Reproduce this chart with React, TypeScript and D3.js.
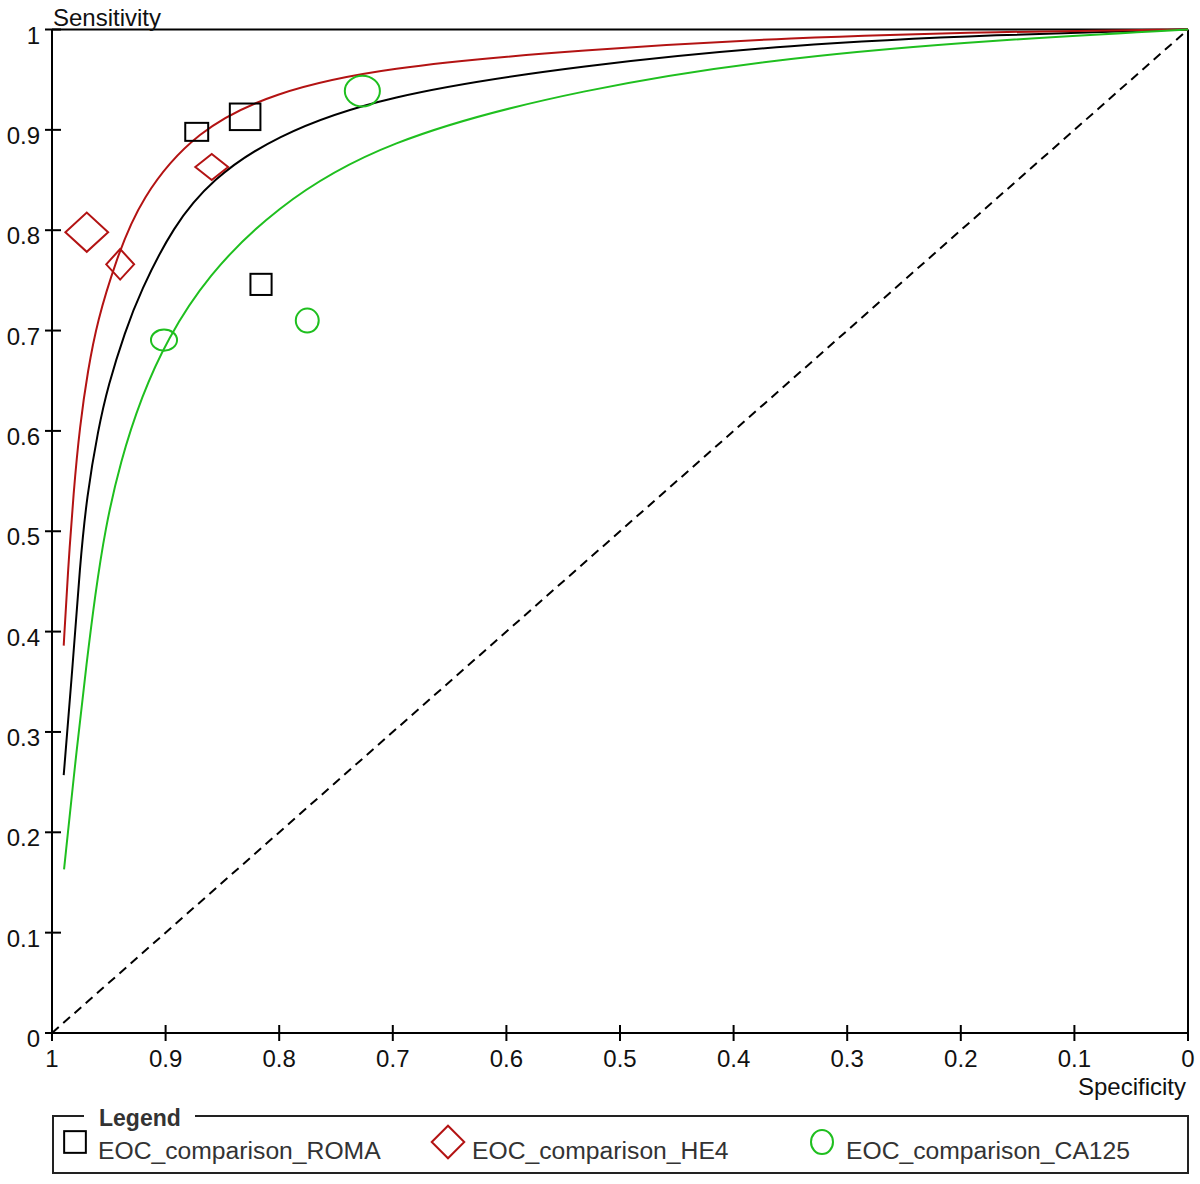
import { scaleLinear, line, curveBasis } from "d3"

const tickValues = [0, 0.1, 0.2, 0.3, 0.4, 0.5, 0.6, 0.7, 0.8, 0.9, 1]
const tickLabels = ["0", "0.1", "0.2", "0.3", "0.4", "0.5", "0.6", "0.7", "0.8", "0.9", "1"]

const seriesNames = ["EOC_comparison_ROMA", "EOC_comparison_HE4", "EOC_comparison_CA125"]
const seriesColors = ["#000000", "#b31313", "#1fbf1f"]
const seriesShapes = ["square", "diamond", "circle"]

// SROC curves (specificity, sensitivity)
const romaCurveSpec = [0.9897, 0.9815, 0.9755, 0.9694, 0.9593, 0.9507, 0.9357, 0.9225, 0.8935, 0.859, 0.8055, 0.711, 0.531, 0.35, 0.1655, 0]
const romaCurveSens = [0.257, 0.37, 0.465, 0.535, 0.602, 0.645, 0.699, 0.738, 0.804, 0.851, 0.893, 0.934, 0.965, 0.985, 0.995, 1]
const he4CurveSpec = [0.9897, 0.986, 0.981, 0.9755, 0.9685, 0.9600, 0.9443, 0.9225, 0.8726, 0.8055, 0.711, 0.531, 0.35, 0.1655, 0]
const he4CurveSens = [0.386, 0.46, 0.54, 0.605, 0.66, 0.71, 0.768, 0.832, 0.9, 0.937, 0.962, 0.98, 0.992, 0.998, 1]
const ca125CurveSpec = [0.9894, 0.978, 0.9694, 0.9621, 0.9533, 0.94, 0.921, 0.8988, 0.8636, 0.8055, 0.711, 0.531, 0.35, 0.1655, 0]
const ca125CurveSens = [0.163, 0.286, 0.37, 0.436, 0.502, 0.569, 0.635, 0.691, 0.754, 0.821, 0.889, 0.942, 0.973, 0.99, 1]

// individual studies: specificity, sensitivity, relative weights (width / height)
const romaSpec = [0.8726, 0.83, 0.816]
const romaSens = [0.898, 0.913, 0.746]
const romaW = [0.51, 0.68, 0.47]
const romaH = [0.4, 0.59, 0.47]
const he4Spec = [0.9694, 0.94, 0.8594]
const he4Sens = [0.798, 0.766, 0.863]
const he4W = [0.95, 0.62, 0.73]
const he4H = [0.87, 0.68, 0.58]
const ca125Spec = [0.9014, 0.7268, 0.7753]
const ca125Sens = [0.6905, 0.9386, 0.71]
const ca125W = [0.58, 0.78, 0.51]
const ca125H = [0.47, 0.68, 0.53]

const curvesSpec = [romaCurveSpec, he4CurveSpec, ca125CurveSpec]
const curvesSens = [romaCurveSens, he4CurveSens, ca125CurveSens]
const studySpec = [romaSpec, he4Spec, ca125Spec]
const studySens = [romaSens, he4Sens, ca125Sens]
const studyW = [romaW, he4W, ca125W]
const studyH = [romaH, he4H, ca125H]

const FONT = "'Liberation Sans', Arial, Helvetica, sans-serif"

function Marker({ shape, cx, cy, w, h, color }: { shape: string; cx: number; cy: number; w: number; h: number; color: string }) {
  if (shape === "square") {
    return <rect x={cx - w / 2} y={cy - h / 2} width={w} height={h} fill="none" stroke={color} strokeWidth={2} />
  }
  if (shape === "diamond") {
    const d = `M${cx - w / 2},${cy}L${cx},${cy - h / 2}L${cx + w / 2},${cy}L${cx},${cy + h / 2}Z`
    return <path d={d} fill="none" stroke={color} strokeWidth={2} />
  }
  return <ellipse cx={cx} cy={cy} rx={w / 2} ry={h / 2} fill="none" stroke={color} strokeWidth={2} />
}

export default function App() {
  const width = 1200
  const height = 1184

  const xScale = scaleLinear().domain([1, 0]).range([52, 1188])
  const yScale = scaleLinear().domain([0, 1]).range([1033, 29.5])
  const sizeScale = scaleLinear().domain([0, 1]).range([0, 45])

  const lineGen = line<[number, number]>()
    .x((d) => xScale(d[0]))
    .y((d) => yScale(d[1]))
    .curve(curveBasis)

  const curves = curvesSpec.map((specs, i) => {
    const pts: [number, number][] = specs.map((s, j) => [s, curvesSens[i][j]])
    return <path key={i} d={lineGen(pts) || ""} fill="none" stroke={seriesColors[i]} strokeWidth={2} />
  })

  const studies = studySpec.map((specs, i) =>
    specs.map((s, j) => (
      <Marker
        key={`${i}-${j}`}
        shape={seriesShapes[i]}
        cx={xScale(s)}
        cy={yScale(studySens[i][j])}
        w={sizeScale(studyW[i][j])}
        h={sizeScale(studyH[i][j])}
        color={seriesColors[i]}
      />
    ))
  )

  const x0 = xScale(1)
  const x1 = xScale(0)
  const y0 = yScale(0)
  const y1 = yScale(1)

  const yTicks = tickValues.map((v, i) => (
    <g key={i}>
      <line x1={x0 - 7} x2={x0 + 9} y1={yScale(v)} y2={yScale(v)} stroke="#000" strokeWidth={2} />
      <text x={40} y={yScale(v) + 14} textAnchor="end" fontSize={24} fill="#111">
        {tickLabels[i]}
      </text>
    </g>
  ))

  const xTicks = tickValues.map((v, i) => (
    <g key={i}>
      <line x1={xScale(v)} x2={xScale(v)} y1={y0 - 8} y2={y0 + 8} stroke="#000" strokeWidth={2} />
      <text x={xScale(v)} y={y0 + 34} textAnchor="middle" fontSize={24} fill="#111">
        {tickLabels[i]}
      </text>
    </g>
  ))

  // legend
  const legendItems = [
    { x: 75, textX: 98, w: 21.7, h: 21.7 },
    { x: 448, textX: 472, w: 32.5, h: 32.5 },
    { x: 822, textX: 846, w: 22, h: 24 },
  ]

  return (
    <div style={{ width, height }}>
      <style>{"body{margin:0}"}</style>
      <svg width={width} height={height} style={{ display: "block", fontFamily: FONT }}>
        <rect width={width} height={height} fill="#fff" />

        {/* frame */}
        <line x1={x0} x2={x1} y1={y1} y2={y1} stroke="#000" strokeWidth={2} />
        <line x1={x1} x2={x1} y1={y1} y2={y0} stroke="#000" strokeWidth={2} />
        <line x1={x0} x2={x0} y1={y1} y2={y0} stroke="#000" strokeWidth={2} />
        <line x1={x0} x2={x1} y1={y0} y2={y0} stroke="#000" strokeWidth={2} />

        {/* chance line */}
        <line x1={x0} y1={y0} x2={x1} y2={y1} stroke="#000" strokeWidth={2} strokeDasharray="9,6" />

        {curves}
        {studies}
        {yTicks}
        {xTicks}

        <text x={53} y={26} fontSize={24} fill="#111">Sensitivity</text>
        <text x={1186} y={1095} fontSize={24} textAnchor="end" fill="#111">Specificity</text>

        <g>
          <path d="M84,1116 L53,1116 L53,1173 L1188,1173 L1188,1116 L195,1116" fill="none" stroke="#222" strokeWidth={2} />
          <text x={99} y={1126} fontSize={23} fontWeight="bold" fill="#333">Legend</text>
          {legendItems.map((it, i) => (
            <g key={i}>
              <Marker shape={seriesShapes[i]} cx={it.x} cy={1142} w={it.w} h={it.h} color={seriesColors[i]} />
              <text x={it.textX} y={1159} fontSize={24.7} fill="#333">{seriesNames[i]}</text>
            </g>
          ))}
        </g>
      </svg>
    </div>
  )
}
